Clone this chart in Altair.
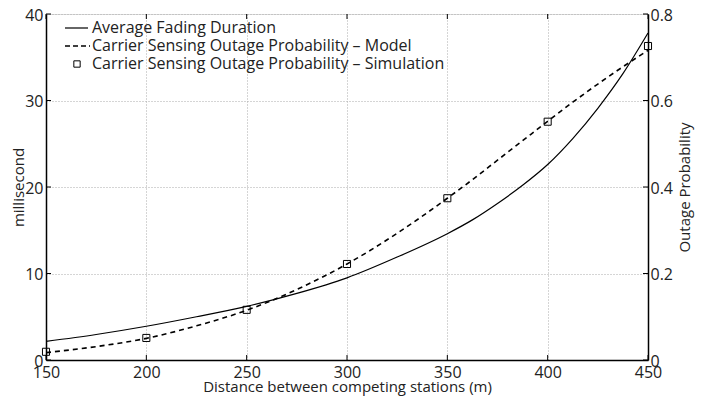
import altair as alt
import pandas as pd

# ---- data ----
dist = [150, 175, 200, 225, 250, 275, 300, 325, 350, 362.5, 375, 387.5, 400, 412.5, 425, 437.5, 450]
fading_ms = [2.15, 2.95, 3.9, 5.0, 6.2, 7.7, 9.5, 11.9, 14.6, 16.2, 18.1, 20.2, 22.6, 25.6, 29.1, 33.1, 37.8]
model_prob = [0.017, 0.031, 0.05, 0.079, 0.115, 0.163, 0.222, 0.293, 0.374, 0.417, 0.462, 0.507,
              0.552, 0.596, 0.638, 0.678, 0.716]
sim_dist = [150, 200, 250, 300, 350, 400, 450]
sim_prob = [0.019, 0.051, 0.116, 0.222, 0.374, 0.551, 0.726]
x_ticks = [150, 200, 250, 300, 350, 400, 450]
ms_ticks = [0, 10, 20, 30, 40]
prob_ticks = [0, 0.2, 0.4, 0.6, 0.8]
legend_labels = ["Average Fading Duration",
                 "Carrier Sensing Outage Probability \u2013 Model",
                 "Carrier Sensing Outage Probability \u2013 Simulation"]

W, H = 602, 346
FONT = "Open Sans"
TXT = "#222222"

curve = pd.DataFrame({"d": dist, "ms": fading_ms, "p": model_prob})
sim = pd.DataFrame({"d": sim_dist, "p": sim_prob})
xt = pd.DataFrame({"d": x_ticks})
mt = pd.DataFrame({"ms": ms_ticks})
pt = pd.DataFrame({"p": prob_ticks})

xscale = alt.Scale(domain=[150, 450], nice=False, zero=False)
ms_scale = alt.Scale(domain=[0, 40], nice=False)
p_scale = alt.Scale(domain=[0, 0.8], nice=False)

common = dict(ticks=False, domain=True, domainColor="black", domainWidth=1.5,
              labelFont=FONT, titleFont=FONT, labelColor=TXT, titleColor=TXT,
              titleFontWeight="normal", labelFlush=False)

x_axis = alt.Axis(values=x_ticks, title="Distance between competing stations (m)",
                  grid=True, gridDash=[1, 2], gridColor="#aaaaaa", gridWidth=1,
                  labelPadding=4, titlePadding=-1, labelFontSize=16, titleFontSize=15, **common)
ms_axis = alt.Axis(values=ms_ticks, title="millisecond", orient="left",
                   grid=True, gridDash=[1, 2], gridColor="#aaaaaa", gridWidth=1,
                   labelPadding=3, titlePadding=-2, labelOffset=1,
                   labelFontSize=16, titleFontSize=15, **common)
p_axis = alt.Axis(values=prob_ticks, title="Outage Probability", orient="right",
                  grid=False, labelPadding=2, titlePadding=20, titleAngle=270, labelOffset=1,
                  labelFontSize=16, titleFontSize=15,
                  labelExpr="datum.value == 0 ? '0' : format(datum.value, '.1f')", **common)

x_enc = alt.X("d:Q", scale=xscale, axis=x_axis)
ms_enc = alt.Y("ms:Q", scale=ms_scale, axis=ms_axis)
p_enc = alt.Y("p:Q", scale=p_scale, axis=p_axis)

fading_line = alt.Chart(curve).mark_line(color="black", strokeWidth=1.2, interpolate="monotone").encode(
    x=x_enc, y=ms_enc)

# inward ticks
xb = alt.Chart(xt).mark_rule(color="black", strokeWidth=1).encode(
    x=x_enc, y=alt.value(H), y2=alt.value(H - 5))
xtop = alt.Chart(xt).mark_rule(color="black", strokeWidth=1).encode(
    x=x_enc, y=alt.value(0), y2=alt.value(5))
ml = alt.Chart(mt).mark_rule(color="black", strokeWidth=1).encode(
    y=ms_enc, x=alt.value(0), x2=alt.value(5))

# manual legend (inside top-left of plot)
row_y = [14, 32, 50]
leg_texts = [
    alt.Chart(pd.DataFrame({"label": [lab]})).mark_text(
        align="left", baseline="middle", font=FONT, fontSize=16, color=TXT).encode(
        x=alt.value(46), y=alt.value(row_y[i]), text="label:N")
    for i, lab in enumerate(legend_labels)
]
one = pd.DataFrame({"k": [0]})
leg_solid = alt.Chart(one).mark_rule(color="black", strokeWidth=1.2).encode(
    x=alt.value(19), x2=alt.value(42), y=alt.value(row_y[0]))
leg_dash = alt.Chart(one).mark_rule(color="black", strokeWidth=1.5, strokeDash=[5, 3]).encode(
    x=alt.value(19), x2=alt.value(44), y=alt.value(row_y[1]))
leg_sq = alt.Chart(one).mark_point(shape="square", filled=False, color="black",
                                   size=40, strokeWidth=1, opacity=1).encode(
    x=alt.value(31), y=alt.value(row_y[2]))

left = alt.layer(fading_line, xb, xtop, ml, *leg_texts, leg_solid, leg_dash, leg_sq)

model_line = alt.Chart(curve).mark_line(color="black", strokeWidth=1.6, strokeDash=[5, 4],
                                        interpolate="monotone").encode(x=x_enc, y=p_enc)
sim_pts = alt.Chart(sim).mark_point(shape="square", filled=False, color="black", size=50,
                                    strokeWidth=1, opacity=1).encode(x=x_enc, y=p_enc)
pr = alt.Chart(pt).mark_rule(color="black", strokeWidth=1).encode(
    y=p_enc, x=alt.value(W - 5), x2=alt.value(W))

right = alt.layer(model_line, sim_pts, pr)

chart = alt.layer(left, right).resolve_scale(y="independent").properties(
    width=W, height=H,
    autosize=alt.AutoSizeParams(type="none"),
    padding={"left": 38, "top": 6, "right": 50, "bottom": 40},
).configure_view(stroke="black", strokeWidth=1.5).configure(background="white")

chart.save("out.html", embed_options={"renderer": "svg", "actions": False})
